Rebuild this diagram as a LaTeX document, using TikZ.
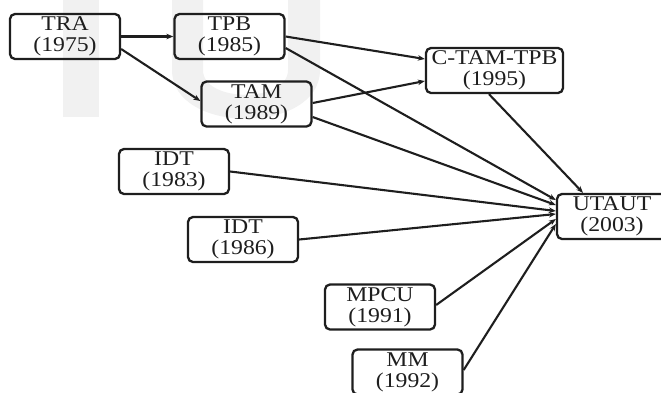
\documentclass[tikz,border=0pt]{standalone}
\usepackage{fontspec}
\setmainfont{Liberation Serif}[FakeStretch=1.13]
\usetikzlibrary{arrows.meta}
\definecolor{ink}{HTML}{1E1E1E}
\definecolor{wm}{HTML}{F1F1F1}
\begin{document}
\begin{tikzpicture}[x=1pt,y=-1pt,
  box/.style={draw=ink, line width=2.3pt, rounded corners=5pt, minimum width=110pt,
    minimum height=45pt, inner sep=0pt, align=center, text=ink,
    font=\fontsize{21}{21}\selectfont},
  conn/.style={draw=ink, line width=2.1pt, -{Stealth[length=7pt,width=5.5pt]}}]
\useasboundingbox (0,0) rectangle (661,392);
\clip (0,0) rectangle (661,392);
% faint watermark
\fill[wm] (63,0) rectangle (99,117);
\fill[wm] (172,0) -- (172,70) .. controls (172,135) and (320,135) .. (320,70) -- (320,0)
  -- (288,0) -- (288,70) .. controls (288,103) and (203,103) .. (203,70) -- (203,0) -- cycle;
% nodes
\node[box] (TRA) at (65,36.5) {TRA\\(1975)};
\node[box] (TPB) at (229.5,36.5) {TPB\\(1985)};
\node[box] (TAM) at (256.5,104) {TAM\\(1989)};
\node[box, minimum width=137pt] (CTAM) at (494.5,70.5) {C-TAM-TPB\\(1995)};
\node[box] (IDTa) at (174,171.5) {IDT\\(1983)};
\node[box] (IDTb) at (243,239.5) {IDT\\(1986)};
\node[box] (MPCU) at (380,307) {MPCU\\(1991)};
\node[box] (MM) at (407.5,372) {MM\\(1992)};
\node[box] (UTAUT) at (612,216.5) {UTAUT\\(2003)};
% connectors
\draw[conn] (TRA.east) -- (TPB.west);
\draw[conn] ([yshift=-12.5pt]TRA.east) -- ([yshift=3pt]TAM.west);
\draw[conn] (TPB.east) -- ([yshift=11.5pt]CTAM.west);
\draw[conn] ([yshift=-11.5pt]TPB.east) -- ([yshift=16.5pt]UTAUT.west);
\draw[conn] ([yshift=1pt]TAM.east) -- ([yshift=-10.5pt]CTAM.west);
\draw[conn] ([yshift=-13pt]TAM.east) -- ([yshift=11.5pt]UTAUT.west);
\draw[conn] ([xshift=-5.5pt]CTAM.south) -- ([xshift=-29pt]UTAUT.north);
\draw[conn] (IDTa.east) -- ([yshift=5.5pt]UTAUT.west);
\draw[conn] (IDTb.east) -- ([yshift=2.5pt]UTAUT.west);
\draw[conn] ([yshift=2pt]MPCU.east) -- ([yshift=-2.5pt]UTAUT.west);
\draw[conn] ([yshift=2pt]MM.east) -- ([yshift=-7.5pt]UTAUT.west);
\end{tikzpicture}
\end{document}
